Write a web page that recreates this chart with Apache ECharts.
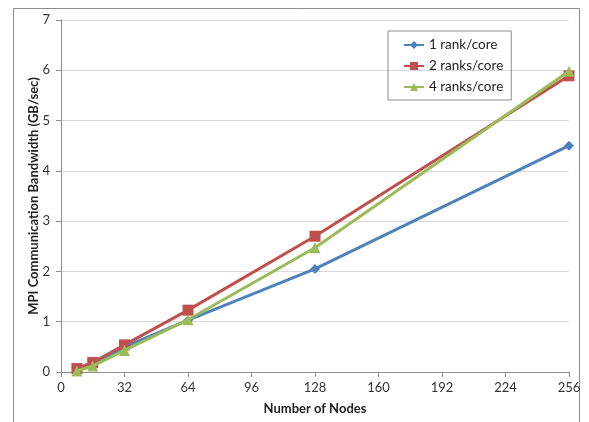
<!DOCTYPE html>
<html><head><meta charset="utf-8">
<script src="https://cdn.jsdelivr.net/npm/echarts@6/dist/echarts.min.js"></script>
<style>html,body{margin:0;padding:0;background:#fff}#c{width:589px;height:422px}</style>
</head><body><div id="c"></div>
<script>
const nodes = [8, 16, 32, 64, 128, 256];
const seriesNames = ['1 rank/core', '2 ranks/core', '4 ranks/core'];
const rank1 = [0.05, 0.15, 0.50, 1.03, 2.05, 4.50];
const rank2 = [0.07, 0.19, 0.54, 1.23, 2.70, 5.89];
const rank4 = [0.02, 0.12, 0.43, 1.04, 2.47, 5.98];
const xTicks = [0, 32, 64, 96, 128, 160, 192, 224, 256];
const yTicks = [0, 1, 2, 3, 4, 5, 6, 7];

const FONT = 'Lato';
const colors = ['#4F81BD', '#C0504D', '#9BBB59'];
const symbols = ['diamond', 'rect', 'triangle'];
const sizes = [10, 11, 11];
const vals = [rank1, rank2, rank4];

const chart = echarts.init(document.getElementById('c'), null, {renderer: 'canvas'});
chart.setOption({
  animation: false,
  backgroundColor: '#fff',
  graphic: [{type: 'rect', shape: {x: 13.5, y: 8.5, width: 566, height: 430}, style: {fill: 'none', stroke: '#8c8c8c', lineWidth: 1}, silent: true}],
  grid: {left: 61, right: 20, top: 20, bottom: 50, containLabel: false},
  legend: {
    left: 388, top: 31, width: 128, height: 65,
    orient: 'vertical', itemGap: 7, padding: [7, 8, 6, 15],
    borderColor: '#8c8c8c', borderWidth: 1,
    itemWidth: 20, itemHeight: 10,
    textStyle: {fontFamily: FONT, fontSize: 13.5, color: '#222'},
    data: seriesNames
  },
  xAxis: {
    type: 'value', min: 0, max: 256, interval: 32,
    name: 'Number of Nodes', nameLocation: 'middle', nameGap: 30,
    nameTextStyle: {fontFamily: FONT, fontSize: 13, fontWeight: 'bold', color: '#222'},
    axisLine: {show: true, lineStyle: {color: '#8c8c8c'}},
    axisTick: {show: true, length: 5, lineStyle: {color: '#8c8c8c'}},
    axisLabel: {fontFamily: FONT, fontSize: 13, color: '#333', margin: 9,
      formatter: v => xTicks.includes(v) ? String(v) : ''},
    splitLine: {show: false}
  },
  yAxis: {
    type: 'value', min: 0, max: 7, interval: 1,
    name: 'MPI Communication Bandwidth (GB/sec)', nameLocation: 'middle', nameGap: 21,
    nameMoveOverlap: false,
    nameTextStyle: {fontFamily: FONT, fontSize: 13, fontWeight: 'bold', color: '#222'},
    axisLine: {show: true, lineStyle: {color: '#8c8c8c'}},
    axisTick: {show: true, length: 5, lineStyle: {color: '#8c8c8c'}},
    axisLabel: {fontFamily: FONT, fontSize: 13, color: '#333', margin: 11,
      formatter: v => yTicks.includes(v) ? String(v) : ''},
    splitLine: {show: true, lineStyle: {color: '#d9d9d9'}}
  },
  series: seriesNames.map((n, i) => ({
    name: n, type: 'line',
    data: nodes.map((x, j) => [x, vals[i][j]]),
    symbol: symbols[i], symbolSize: sizes[i], showAllSymbol: true,
    lineStyle: {color: colors[i], width: 3},
    itemStyle: {color: colors[i], borderWidth: 0},
    z: 2 + i
  }))
});
</script></body></html>
